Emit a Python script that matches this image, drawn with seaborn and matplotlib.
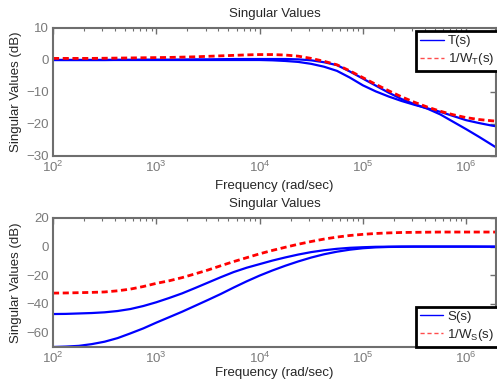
import pandas as pd
import matplotlib
matplotlib.use("Agg")
import matplotlib.pyplot as plt
import seaborn as sns
from matplotlib.lines import Line2D
from matplotlib.ticker import LogLocator, FixedLocator

# frequency grid (rad/sec), eighth decades
freq = [100, 133, 178, 237, 316, 422, 562, 750, 1000, 1334, 1778, 2371,
        3162, 4217, 5623, 7499, 10000, 13335, 17783, 23714, 31623, 42170,
        56234, 74989, 100000, 133352, 177828, 237137, 316228, 421697,
        562341, 749894, 1000000, 1333521, 1778279, 1950000]

# top panel: T(s) singular values and 1/W_T(s), dB
T_sv1 = [0.0, 0.0, 0.0, 0.0, 0.0, 0.05, 0.05, 0.1, 0.1, 0.1, 0.15, 0.2,
         0.2, 0.25, 0.3, 0.3, 0.3, 0.3, 0.3, 0.2, -0.1, -0.7, -1.6, -3.6,
         -5.8, -8.0, -10.2, -12.2, -13.8, -15.2, -17.0, -19.3, -21.6,
         -24.0, -26.5, -27.3]
T_sv2 = [0.0, 0.0, 0.0, 0.0, 0.0, 0.0, 0.0, 0.0, 0.0, 0.0, 0.0, 0.0,
         0.0, 0.0, 0.0, 0.0, 0.0, -0.1, -0.3, -0.6, -1.2, -2.1, -3.4, -5.5,
         -7.9, -9.8, -11.4, -12.8, -14.0, -15.1, -16.2, -17.5, -18.8,
         -19.7, -20.5, -20.7]
inv_WT = [0.5, 0.5, 0.5, 0.5, 0.55, 0.6, 0.65, 0.7, 0.75, 0.8, 0.9, 1.0,
          1.15, 1.3, 1.45, 1.6, 1.7, 1.7, 1.55, 1.2, 0.5, -0.4, -1.5, -3.4,
          -5.5, -7.6, -9.6, -11.5, -13.2, -14.7, -16.0, -17.1, -18.0,
          -18.6, -19.0, -19.1]

# bottom panel: S(s) singular values and 1/W_S(s), dB
S_sv1 = [-47.0, -46.9, -46.6, -46.3, -45.8, -44.9, -43.5, -41.4, -38.8,
         -35.8, -32.6, -28.9, -25.1, -21.3, -17.7, -14.7, -12.2, -9.7,
         -7.5, -5.5, -3.8, -2.5, -1.5, -0.8, -0.4, -0.1, 0.0, 0.1, 0.1,
         0.1, 0.1, 0.1, 0.1, 0.05, 0.0, 0.0]
S_sv2 = [-70.0, -69.7, -69.2, -68.0, -66.3, -63.8, -60.5, -57.0, -53.0,
         -49.2, -45.4, -41.3, -37.2, -33.0, -28.5, -24.2, -20.2, -16.6,
         -13.3, -10.3, -7.6, -5.3, -3.5, -2.1, -1.1, -0.5, -0.2, -0.1, 0.0,
         0.0, 0.0, 0.0, 0.0, 0.0, 0.0, 0.0]
inv_WS = [-32.4, -32.3, -32.1, -31.9, -31.6, -30.8, -29.6, -27.8, -25.6,
          -23.8, -21.6, -19.0, -16.3, -13.3, -10.4, -7.7, -5.0, -2.6, -0.4,
          1.7, 3.6, 5.3, 6.7, 7.8, 8.6, 9.2, 9.6, 9.9, 10.0, 10.1, 10.2,
          10.2, 10.2, 10.2, 10.2, 10.2]

sns.set_style("white")
plt.rcParams['font.family'] = ['Liberation Sans', 'DejaVu Sans']
plt.rcParams['mathtext.fontset'] = 'custom'
plt.rcParams['mathtext.rm'] = 'Liberation Sans'
plt.rcParams['mathtext.it'] = 'Liberation Sans:italic'

GRAY = '#6e6e6e'
LABEL_GRAY = '#7a7a7a'
BLUE = '#0000ff'
RED = '#ff0000'
FS = 9.5

fig = plt.figure(figsize=(4.97, 3.81), dpi=100)
ax1 = fig.add_axes([53 / 497, 1 - 156 / 381, 443 / 497, 128 / 381])
ax2 = fig.add_axes([53 / 497, 1 - 347 / 381, 443 / 497, 129 / 381])


def draw(ax, a, b, w, ylim, yticks, lab1, lab2, legend_anchor, legend_loc,
         xpad):
    df = pd.DataFrame({'freq': freq, 'a': a, 'b': b, 'w': w})
    sns.lineplot(data=df, x='freq', y='a', ax=ax, color=BLUE, lw=1.6,
                 estimator=None, sort=False)
    sns.lineplot(data=df, x='freq', y='b', ax=ax, color=BLUE, lw=1.6,
                 estimator=None, sort=False)
    sns.lineplot(data=df, x='freq', y='w', ax=ax, color=RED, lw=2.0,
                 estimator=None, sort=False, dashes=False,
                 linestyle=(0, (2.2, 1.3)))
    ax.set_xscale('log')
    ax.set_xlim(100, 1950000)
    ax.set_ylim(*ylim)
    ax.set_yticks(yticks)
    ax.xaxis.set_major_locator(FixedLocator([1e2, 1e3, 1e4, 1e5, 1e6]))
    ax.xaxis.set_minor_locator(LogLocator(base=10, subs=range(2, 10)))
    ax.set_title('Singular Values', fontsize=FS, pad=8)
    ax.set_xlabel('Frequency (rad/sec)', fontsize=FS, labelpad=xpad)
    ax.set_ylabel('Singular Values (dB)', fontsize=FS, labelpad=3)
    for s in ax.spines.values():
        s.set_color(GRAY)
        s.set_linewidth(1.5)
    ax.tick_params(which='both', direction='in', top=True, right=True,
                   colors=GRAY, labelsize=FS, labelcolor=LABEL_GRAY, pad=3)
    ax.tick_params(which='major', length=4, width=1)
    ax.tick_params(which='minor', length=2, width=0.8)
    handles = [Line2D([], [], color=BLUE, lw=1),
               Line2D([], [], color=RED, lw=1, ls=(0, (3, 2)), alpha=0.7)]
    leg = ax.legend(handles, [lab1, lab2], loc=legend_loc,
                    bbox_to_anchor=legend_anchor, fontsize=FS,
                    frameon=True, fancybox=False, framealpha=1,
                    edgecolor='black', handlelength=1.8, handletextpad=0.3,
                    borderpad=0.3, labelspacing=0.3, borderaxespad=0)
    leg.get_frame().set_linewidth(2)


draw(ax1, T_sv1, T_sv2, inv_WT, (-30, 10), [-30, -20, -10, 0, 10],
     'T(s)', r'1/W$_{\mathrm{T}}$(s)', (1.005, 0.975), 'upper right', 3)
draw(ax2, S_sv1, S_sv2, inv_WS, (-70, 20), [-60, -40, -20, 0, 20],
     'S(s)', r'1/W$_{\mathrm{S}}$(s)', (1.005, 0.0), 'lower right', 0.5)

fig.savefig('out.png', dpi=100)
